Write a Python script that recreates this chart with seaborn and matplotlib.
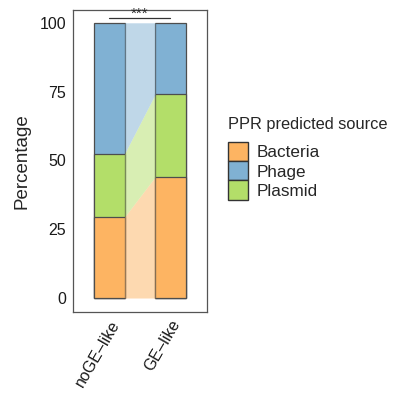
import numpy as np
import pandas as pd
import matplotlib
matplotlib.use("Agg")
import matplotlib.pyplot as plt
import seaborn as sns
from matplotlib.patches import Patch

groups = ["noGE\u2013like", "GE\u2013like"]
sources = ["Bacteria", "Plasmid", "Phage"]
bacteria = [29.5, 44.0]
plasmid = [23.0, 30.0]
phage = [47.5, 26.0]

colors = {"Bacteria": "#FDB462", "Phage": "#80B1D3", "Plasmid": "#B3DE69"}

sns.set_style("white")
plt.rcParams["font.family"] = ["Liberation Sans", "DejaVu Sans"]

fig = plt.figure(figsize=(3.98, 3.94), dpi=100)
ax = fig.add_axes([0.183, 0.208, 0.337, 0.767])

values = {"Bacteria": bacteria, "Plasmid": plasmid, "Phage": phage}
cum = np.cumsum([values[s] for s in sources], axis=0)
df = pd.DataFrame({"group": groups})
for i, s in enumerate(sources):
    df[s + "_top"] = cum[i]

# draw stacked bars top layer first so lower layers overlay
for i in reversed(range(len(sources))):
    s = sources[i]
    sns.barplot(data=df, x="group", y=s + "_top", color=colors[s], width=0.5,
                edgecolor="#4d4d4d", linewidth=0.9, saturation=1, ax=ax)

# alluvial ribbons between the two bars
x0, x1 = 0.25, 0.75
for i, s in enumerate(sources):
    lo = cum[i - 1] if i > 0 else np.zeros(2)
    hi = cum[i]
    ax.fill_between([x0, x1], [lo[0], lo[1]], [hi[0], hi[1]],
                    color=colors[s], alpha=0.5, linewidth=0)

# significance marker
ax.plot([-0.01, 1.0], [101.8, 101.8], color="#333333", lw=0.9)
ax.text(0.5, 100.6, "***", ha="center", va="bottom", fontsize=11)

ax.set_xlim(-0.6, 1.6)
ax.set_ylim(-5.1, 104.7)
ax.set_yticks([0, 25, 50, 75, 100])
ax.set_ylabel("Percentage", fontsize=13.5, labelpad=6)
ax.set_xlabel("")
ax.tick_params(axis="both", labelsize=11.5, length=0, pad=5, labelcolor="#1a1a1a")
ax.tick_params(axis="x", labelrotation=60, pad=4)
for lab in ax.get_xticklabels():
    lab.set_ha("right")
    lab.set_rotation_mode("anchor")
for sp in ax.spines.values():
    sp.set_color("#555555")
    sp.set_linewidth(0.9)

handles = [Patch(facecolor=colors[s], edgecolor="#333333", label=s)
           for s in ["Bacteria", "Phage", "Plasmid"]]
leg = fig.legend(handles=handles, title="PPR predicted source",
                 loc="upper left", bbox_to_anchor=(0.572, 0.702),
                 frameon=False, fontsize=12.3, title_fontsize=11.8,
                 handlelength=1.2, handleheight=1.35, handletextpad=0.5,
                 labelspacing=0.0, borderaxespad=0, borderpad=0)
leg._legend_box.align = "left"
leg._legend_box.sep = 7

fig.savefig("out.png", dpi=100)
